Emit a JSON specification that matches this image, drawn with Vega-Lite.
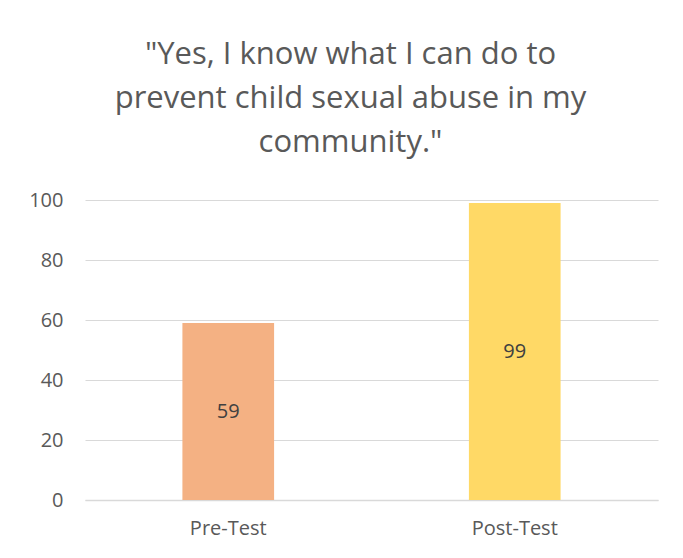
{
  "$schema": "https://vega.github.io/schema/vega-lite/v6.json",
  "autosize": {"type": "none"},
  "width": 573,
  "height": 300,
  "padding": {"left": 85, "top": 200, "right": 25, "bottom": 58},
  "background": "white",
  "view": {"stroke": null},
  "title": {
    "text": ["\"Yes, I know what I can do to", "prevent child sexual abuse in my", "community.\""],
    "font": "Open Sans",
    "fontSize": 31,
    "fontWeight": "normal",
    "color": "#595959",
    "lineHeight": 44,
    "anchor": "middle",
    "dx": -21,
    "offset": 31
  },
  "data": {
    "values": [
      {"test": "Pre-Test", "value": 59},
      {"test": "Post-Test", "value": 99}
    ]
  },
  "encoding": {
    "x": {
      "field": "test",
      "type": "nominal",
      "sort": ["Pre-Test", "Post-Test"],
      "scale": {"paddingInner": 0.68, "paddingOuter": 0.34},
      "axis": {
        "title": null,
        "labelAngle": 0,
        "labelFont": "Open Sans",
        "labelFontSize": 20,
        "labelColor": "#595959",
        "labelPadding": 18,
        "ticks": false,
        "domainColor": "#d9d9d9",
        "domainWidth": 1.5
      }
    }
  },
  "layer": [
    {
      "mark": {"type": "bar"},
      "encoding": {
        "y": {
          "field": "value",
          "type": "quantitative",
          "scale": {"domain": [0, 100]},
          "axis": {
            "title": null,
            "values": [0, 20, 40, 60, 80, 100],
            "labelFont": "Open Sans",
            "labelFontSize": 20,
            "labelColor": "#595959",
            "labelPadding": 22,
            "ticks": false,
            "domain": false,
            "gridColor": "#d9d9d9",
            "gridWidth": 1
          }
        },
        "color": {
          "field": "test",
          "type": "nominal",
          "scale": {"domain": ["Pre-Test", "Post-Test"], "range": ["#F4B183", "#FFD966"]},
          "legend": null
        }
      }
    },
    {
      "transform": [{"calculate": "datum.value / 2", "as": "mid"}],
      "mark": {"type": "text", "font": "Open Sans", "fontSize": 20, "color": "#404040", "baseline": "middle"},
      "encoding": {
        "y": {"field": "mid", "type": "quantitative"},
        "text": {"field": "value", "type": "quantitative"}
      }
    }
  ]
}
